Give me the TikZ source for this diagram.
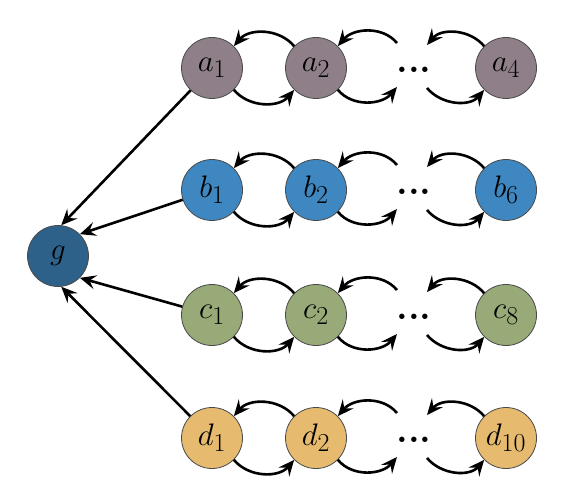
\documentclass[tikz,border=0pt]{standalone}
\usetikzlibrary{arrows.meta}
\definecolor{colA}{HTML}{8E7F88}
\definecolor{colB}{HTML}{3F87C0}
\definecolor{colC}{HTML}{97AA78}
\definecolor{colD}{HTML}{E6BB70}
\definecolor{colG}{HTML}{2E6189}
\definecolor{edgeC}{HTML}{4A4A4A}
\newcommand{\lbl}[1]{\scalebox{1.25}{$#1$}}
\tikzset{
  vtx/.style={circle, draw=edgeC, line width=0.8pt, minimum size=61pt, inner sep=0pt,
    font=\Huge},
  arr/.style={-{Stealth[length=16pt, width=14pt, inset=6pt]}, line width=2.6pt, black},
  dotsn/.style={font=\Huge\bfseries, inner sep=0pt},
}
\begin{document}
\begin{tikzpicture}[x=1pt, y=-1pt]
\useasboundingbox (0,0) rectangle (573,500);
\node[vtx, fill=colG] (g) at (58,256) {\lbl{g}};
% rows
\foreach \r/\y/\c/\last in {a/68/colA/4, b/190/colB/6, c/315/colC/8, d/438/colD/10}{
  \node[vtx, fill=\c] (\r1) at (212,\y) {\lbl{\r_1}};
  \node[vtx, fill=\c] (\r2) at (316,\y) {\lbl{\r_2}};
  \node[dotsn] (\r dots) at (414,\y+2) {\scalebox{1.5}{...}};
  \node[vtx, fill=\c] (\r n) at (506,\y) {\lbl{\r_{\last}}};
  \coordinate (\r L1) at (397,\y-25);
  \coordinate (\r L2) at (397,\y+19);
  \coordinate (\r R1) at (427,\y-23);
  \coordinate (\r R2) at (427,\y+20);
  \draw[arr] (\r2.135) to[out=130,in=50] (\r1.45);
  \draw[arr] (\r L1) to[out=130,in=50] (\r2.45);
  \draw[arr] (\r n.135) to[out=130,in=50] (\r R1);
  \draw[arr] (\r1.-45) to[out=-50,in=-130] (\r2.-135);
  \draw[arr] (\r2.-45) to[out=-50,in=-130] (\r L2);
  \draw[arr] (\r R2) to[out=-50,in=-130] (\r n.-135);
}
\draw[arr] (a1) -- (g.84);
\draw[arr] (b1) -- (g.45);
\draw[arr] (c1) -- (g.-45);
\draw[arr] (d1) -- (g.-84);
\end{tikzpicture}
\end{document}
